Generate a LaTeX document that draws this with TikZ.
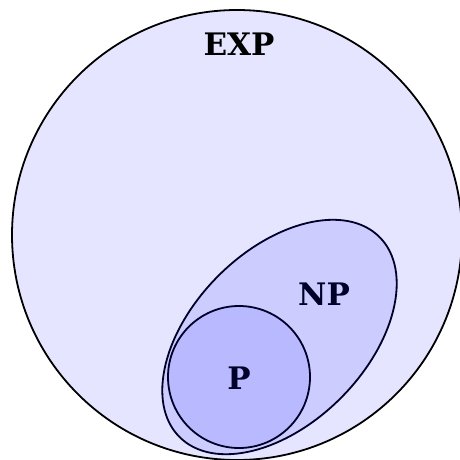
\documentclass[tikz,border=0pt]{standalone}
\usepackage{fontspec}
\setmainfont{DejaVu Serif}
\definecolor{expfill}{RGB}{229,229,255}
\definecolor{npfill}{RGB}{204,204,255}
\definecolor{pfill}{RGB}{185,185,255}
\definecolor{inner}{RGB}{0,0,40}
\tikzset{
  setlabel/.style={font=\bfseries\fontsize{31}{31}\selectfont, inner sep=0pt, anchor=base},
}
\begin{document}
\begin{tikzpicture}[x=1pt,y=-1pt]
\useasboundingbox (0,0) rectangle (460,460);
\fill[white] (0,0) rectangle (460,460);
\begin{scope}
\clip (0,0) rectangle (460,460);
\draw[line width=1.8pt, fill=expfill] (237,235) circle[radius=225];
\draw[line width=1.8pt, draw=inner, fill=npfill, rotate around={45:(279.5,337)}] (279.5,337) ellipse[x radius=141.4, y radius=86.5];
\draw[line width=1.8pt, draw=inner, fill=pfill] (239,377) circle[radius=71];
\end{scope}
\node[setlabel] (exp) at (239,56) {EXP};
\node[setlabel, text=inner] (np) at (324,305) {NP};
\node[setlabel, text=inner] (p) at (239,389) {P};
\end{tikzpicture}
\end{document}
